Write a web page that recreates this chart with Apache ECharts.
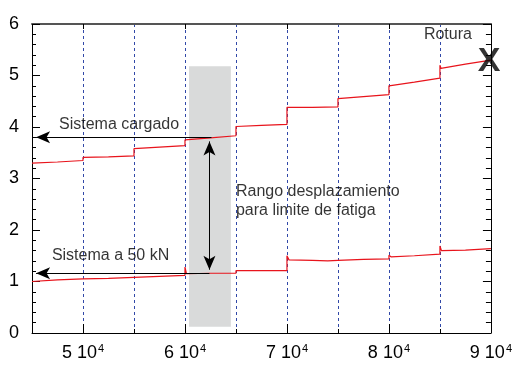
<!DOCTYPE html>
<html>
<head>
<meta charset="utf-8">
<script src="https://cdn.jsdelivr.net/npm/echarts@6/dist/echarts.min.js"></script>
<style>
  html, body { margin: 0; padding: 0; background: #fff; }
  #chart { width: 515px; height: 365px; }
</style>
</head>
<body>
<div id="chart"></div>
<script>
// Cycle count (x) against displacement (y) for the loaded system and at 50 kN
const xMajorTicks = [50000, 60000, 70000, 80000, 90000];

const sistemaCargado = [
  [45000, 3.30], [47500, 3.32], [50000, 3.35], [50000, 3.41], [52500, 3.42],
  [55000, 3.44], [55000, 3.58], [57500, 3.61], [60000, 3.64], [60000, 3.75],
  [62500, 3.79], [65000, 3.83], [65000, 4.01], [67500, 4.03], [70000, 4.05],
  [70000, 4.38], [72500, 4.38], [75000, 4.39], [75000, 4.55], [77500, 4.59],
  [80000, 4.63], [80000, 4.80], [82500, 4.87], [85000, 4.95], [85000, 5.20],
  [85100, 5.14], [87500, 5.22], [90000, 5.30]
];

const sistema50kN = [
  [45000, 1.00], [47500, 1.03], [50000, 1.05], [52500, 1.06], [55000, 1.08],
  [57500, 1.10], [60000, 1.12], [60000, 1.28], [60150, 1.15], [62500, 1.16],
  [65000, 1.16], [65000, 1.21], [67500, 1.21], [70000, 1.21], [70000, 1.50],
  [70200, 1.42], [72500, 1.41], [74000, 1.40], [75000, 1.41], [77500, 1.43],
  [80000, 1.44], [80000, 1.51], [80200, 1.48], [82500, 1.50], [85000, 1.53],
  [85000, 1.69], [85150, 1.60], [87500, 1.61], [90000, 1.64]
];

// Shaded band of cycles used for the fatigue-limit range
const bandoFatiga = { x0: 60400, x1: 64500, y0: 0.12, y1: 5.18 };

// Reference arrows: horizontal pointers to the axis and the vertical range arrow
const flechaCargado = { x0: 62600, x1: 45400, y: 3.80 };
const flecha50kN = { x0: 62400, x1: 45400, y: 1.16 };
const flechaRango = { x: 62400, y0: 3.72, y1: 1.23 };

// Text annotations: [x, y, text]
const textosIzq = [
  [47650, 4.04, 'Sistema cargado'],
  [46950, 1.50, 'Sistema a 50 kN'],
  [65000, 2.57, 'Rango desplazamiento\npara limite de fatiga'],
  [83430, 5.79, 'Rotura']
];
const marcaRotura = [[89830, 5.26, 'X']];

const FONT = '"Liberation Sans", Arial, sans-serif';
const GRID_BLUE = '#3148a8';

const chart = echarts.init(document.getElementById('chart'));

function xAxisBase(extra) {
  return Object.assign({
    type: 'value', min: 45000, max: 90000, interval: 5000,
    axisLine: { show: false },
    axisTick: { show: false },
    axisLabel: { show: false },
    splitLine: { show: false }
  }, extra);
}

function yAxisBase(extra) {
  return Object.assign({
    type: 'value', min: 0, max: 6, interval: 1,
    axisLine: { show: true, onZero: false, lineStyle: { color: '#000', width: 1 } },
    axisTick: { show: true, inside: true, length: 8, lineStyle: { color: '#000', width: 1 } },
    minorTick: { show: true, splitNumber: 5, length: 4, lineStyle: { color: '#000', width: 1 } },
    axisLabel: { show: false },
    splitLine: { show: false }
  }, extra);
}

chart.setOption({
  animation: false,
  backgroundColor: '#fff',
  grid: { left: 32, right: 23, top: 24, bottom: 32 },
  xAxis: [
    // bottom axis: dashed grid every 5000, short ticks, labels on 10^4 multiples
    xAxisBase({
      position: 'bottom',
      axisLine: { show: true, onZero: false, lineStyle: { color: '#000', width: 1 } },
      axisTick: { show: true, inside: true, length: 4, lineStyle: { color: '#000', width: 1 } },
      axisLabel: {
        show: true,
        margin: 10,
        color: '#000',
        formatter: function (v) {
          return v % 10000 === 0 ? '{a|' + (v / 10000) + ' 10}{s|4}' : '';
        },
        rich: {
          a: { fontSize: 18, fontFamily: FONT, color: '#000' },
          s: { fontSize: 11, fontFamily: FONT, color: '#000', padding: [0, 0, 10, 1] }
        }
      },
      splitLine: { show: true, lineStyle: { color: GRID_BLUE, width: 1, type: [3, 3] } }
    }),
    // top frame line with short inward ticks on 10^4 multiples
    xAxisBase({
      position: 'top',
      axisLine: { show: true, onZero: false, lineStyle: { color: '#555', width: 2 } },
      axisTick: { show: true, inside: true, length: 5, customValues: xMajorTicks,
                  lineStyle: { color: '#000', width: 1 } }
    }),
    // longer major ticks on the bottom axis
    xAxisBase({
      position: 'bottom',
      axisTick: { show: true, inside: true, length: 9, customValues: xMajorTicks,
                  lineStyle: { color: '#000', width: 1 } }
    })
  ],
  yAxis: [
    yAxisBase({
      position: 'left',
      axisLabel: { show: true, margin: 13, fontSize: 18, fontFamily: FONT, color: '#000' }
    }),
    yAxisBase({
      position: 'right',
      minorTick: { show: true, splitNumber: 5, length: 5, lineStyle: { color: '#000', width: 1 } }
    })
  ],
  series: [
    {
      name: 'banda',
      type: 'line',
      data: [],
      z: 1,
      silent: true,
      markArea: {
        silent: true,
        itemStyle: { color: '#d9dada' },
        data: [[
          { coord: [bandoFatiga.x0, bandoFatiga.y0] },
          { coord: [bandoFatiga.x1, bandoFatiga.y1] }
        ]]
      }
    },
    {
      name: 'Sistema cargado',
      type: 'line',
      data: sistemaCargado,
      showSymbol: false,
      z: 3,
      lineStyle: { color: '#e8141c', width: 1.2 }
    },
    {
      name: 'Sistema a 50 kN',
      type: 'line',
      data: sistema50kN,
      showSymbol: false,
      z: 3,
      lineStyle: { color: '#e8141c', width: 1.2 }
    },
    {
      name: 'flechas',
      type: 'line',
      data: [],
      z: 4,
      silent: true,
      markLine: {
        silent: true,
        animation: false,
        label: { show: false },
        emphasis: { disabled: true },
        lineStyle: { color: '#000', width: 1, type: 'solid' },
        symbolSize: [9, 14],
        data: [
          [
            { coord: [flechaCargado.x0, flechaCargado.y], symbol: 'none' },
            { coord: [flechaCargado.x1, flechaCargado.y], symbol: 'arrow' }
          ],
          [
            { coord: [flecha50kN.x0, flecha50kN.y], symbol: 'none' },
            { coord: [flecha50kN.x1, flecha50kN.y], symbol: 'arrow' }
          ],
          [
            { coord: [flechaRango.x, flechaRango.y0], symbol: 'arrow' },
            { coord: [flechaRango.x, flechaRango.y1], symbol: 'arrow' }
          ]
        ]
      }
    },
    {
      name: 'textos',
      type: 'scatter',
      data: textosIzq,
      symbolSize: 0,
      z: 5,
      silent: true,
      label: {
        show: true,
        position: 'right',
        distance: 0,
        fontSize: 16,
        lineHeight: 19,
        fontFamily: FONT,
        color: '#000',
        formatter: function (p) { return p.data[2]; }
      }
    },
    {
      name: 'rotura',
      type: 'scatter',
      data: marcaRotura,
      symbolSize: 0,
      z: 5,
      silent: true,
      label: {
        show: true,
        position: 'inside',
        fontSize: 34,
        fontWeight: 'bold',
        fontFamily: FONT,
        color: '#000',
        formatter: function (p) { return p.data[2]; }
      }
    }
  ]
});
</script>
</body>
</html>
